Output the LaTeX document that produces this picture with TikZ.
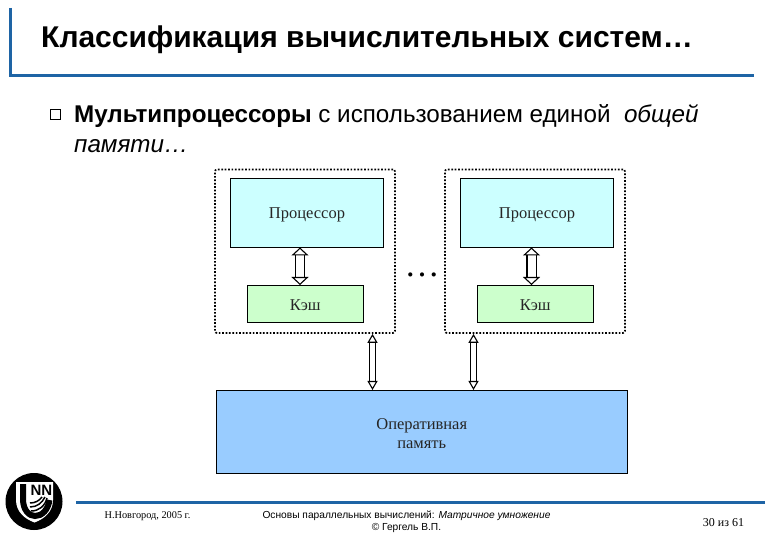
\documentclass[tikz,border=0pt]{standalone}
\usepackage{fontspec}
\setmainfont{Liberation Sans}
\newfontfamily\serifcyr{Liberation Serif}
\usetikzlibrary{arrows.meta,calc}
\definecolor{rulecol}{RGB}{30,100,165}
\definecolor{cpucol}{RGB}{204,255,255}
\definecolor{cachecol}{RGB}{204,255,204}
\definecolor{memcol}{RGB}{153,204,255}
\tikzset{
  box/.style={draw=black,line width=.9pt,inner sep=0pt,align=center,font=\serifcyr\fontsize{16.5}{19}\selectfont,text=black!85},
  frame/.style={draw=black,line width=1.7pt,dash pattern=on 1.7pt off 1.7pt,rounded corners=2pt,inner sep=0pt},
  bigarrow/.style={line width=1.1pt,double=white,double distance=8pt,{Triangle[open,fill=white,length=8pt,width=17pt]}-{Triangle[open,fill=white,length=8pt,width=17pt]}},
  smallarrow/.style={line width=1.1pt,double=white,double distance=5pt,{Triangle[open,fill=white,length=9pt,width=10pt]}-{Triangle[open,fill=white,length=9pt,width=10pt]}},
  rulepart/.style={draw=rulecol,line width=3pt},
  foot/.style={font=\fontsize{10.2}{12}\selectfont,align=center,inner sep=0pt}
}
\begin{document}
\begin{tikzpicture}[x=1pt,y=-1pt]
\useasboundingbox (0,0) rectangle (780,540);
\fill[white] (0,0) rectangle (780,540);
\draw[rulepart] (10.5,8) -- (10.5,75.5) -- (754,75.5);
\draw[rulepart] (76,502.3) -- (765,502.3);
\node[anchor=west,inner sep=0pt,font=\bfseries\fontsize{30}{34}\selectfont] (title) at (41,39.5) {Классификация вычислительных систем…};
\node[anchor=center,draw=black,line width=1.4pt,minimum size=10pt,inner sep=0pt] (bullet) at (55.5,114.5) {};
\node[anchor=west,inner sep=0pt,font=\fontsize{24.2}{28}\selectfont] (l1) at (74,116) {\textbf{Мультипроцессоры} с использованием единой \ \textit{общей}};
\node[anchor=west,inner sep=0pt,font=\itshape\fontsize{24.2}{28}\selectfont] (l2) at (74,146.5) {памяти…};

\node[frame,minimum width=180pt,minimum height=163.5pt] (o1) at (305,251.25) {};
\node[frame,minimum width=180pt,minimum height=163.5pt] (o2) at (535,251.25) {};
\node[box,fill=cpucol,minimum width=153pt,minimum height=69.5pt] (p1) at (307,212.75) {\rule{0pt}{15pt}Процессор};
\node[box,fill=cpucol,minimum width=153pt,minimum height=69.5pt] (p2) at (537,212.75) {\rule{0pt}{15pt}Процессор};
\node[box,fill=cachecol,minimum width=115.5pt,minimum height=37pt] (c1) at (305.25,303.5) {\rule{0pt}{14pt}Кэш};
\node[box,fill=cachecol,minimum width=115.5pt,minimum height=37pt] (c2) at (535.25,303.5) {\rule{0pt}{14pt}Кэш};
\node[box,fill=memcol,minimum width=410.5pt,minimum height=83pt] (m) at (421.75,431.5) {\rule{0pt}{15pt}Оперативная\\память};
\draw[bigarrow] (300,247.5) -- (300,285);
\draw[bigarrow] (531.5,247.5) -- (531.5,285);
\coordinate (a1) at (372.5,390);
\coordinate (a2) at (473.5,390);
\draw[smallarrow] (a1 |- o1.south) -- (a1);
\draw[smallarrow] (a2 |- o2.south) -- (a2);
\node[inner sep=0pt,font=\serifcyr\fontsize{35}{35}\selectfont] (dots) at (422,275) {…};

% logo
\fill[black] (34,501.5) circle (28.5);
\fill[white] (16,482) -- (53,482) -- (53,500) .. controls (53,512) and (44,519) .. (34.5,522.5) .. controls (25,519) and (16,512) .. (16,500) -- cycle;
\draw[black,line width=6pt] (23,484) -- (23,499) .. controls (23,510) and (29,516) .. (35,516) .. controls (42,516) and (48,510) .. (49.5,500);
\draw[black,line width=1.5pt] (31,511) .. controls (39,511) and (45,506) .. (47,498);
\draw[black,line width=1.5pt] (30,507) .. controls (37,507) and (42,503) .. (45,497);
\draw[black,line width=1.5pt] (30,503) .. controls (35,503) and (39,501) .. (42,497);
\node[inner sep=0pt,text=black,font=\bfseries\fontsize{15}{15}\selectfont] (nn) at (41.5,490.5) {NN};

\node[foot,font=\serifcyr\fontsize{10.3}{12}\selectfont] (f1) at (147.5,516) {Н.Новгород, 2005 г.};
\node[foot] (f2) at (406.5,522) {Основы параллельных вычислений: \textit{Матричное умножение}\\© Гергель В.П.};
\node[foot,font=\serifcyr\fontsize{12}{12}\selectfont] (f3) at (723.5,523) {30 из 61};
\end{tikzpicture}
\end{document}
